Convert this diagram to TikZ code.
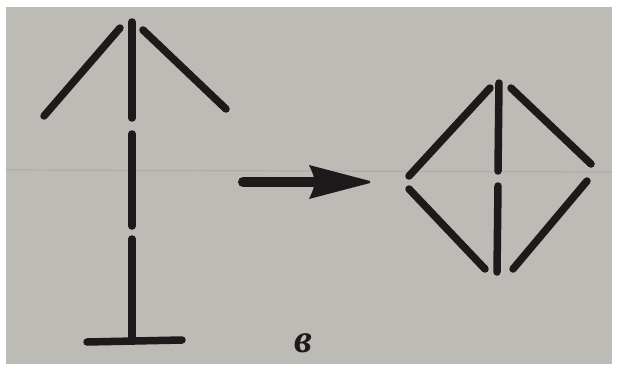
\documentclass[tikz,border=0pt]{standalone}
\usepackage{fontspec}
\newfontfamily\cyrfont{Liberation Serif}
\begin{document}
\begin{tikzpicture}[x=1pt,y=-1pt,
  stick/.style={line width=7.5pt,line cap=round,draw=ink},
]
\definecolor{ink}{RGB}{28,26,26}
\definecolor{paper}{RGB}{188,187,182}
\useasboundingbox (0,0) rectangle (619,370);
\fill[white] (0,0) rectangle (619,370);
\fill[paper] (6,7) rectangle (612,364);
\draw[line width=1.2pt,draw=paper!92!black] (6,170) -- (612,172);
% left figure
\draw[stick] (132,22) -- (132,118);
\draw[stick] (120,28) -- (44,116);
\draw[stick] (143,30) -- (226,109);
\draw[stick] (132,134) -- (132,226);
\draw[stick] (132,239) -- (132,337);
\draw[stick] (87,342) -- (182,340);
% arrow
\draw[line width=10pt,line cap=round,draw=ink] (243,182) -- (318,182);
\fill[ink] (309,165) .. controls (314,176) .. (314,182) .. controls (314,188) .. (309,199) -- (370,183) -- (370,181) -- cycle;
% right figure (diamond)
\draw[stick] (409,176) -- (490,88);
\draw[stick] (499,83) -- (498,171);
\draw[stick] (511,88) -- (591,164);
\draw[stick] (409,189) -- (485,269);
\draw[stick] (498,186) -- (497,272);
\draw[stick] (587,181) -- (513,269);
% label
\node[text=ink,font=\cyrfont\itshape\bfseries\fontsize{40}{40}\selectfont] (lbl) at (303,343) {в};
\end{tikzpicture}
\end{document}
